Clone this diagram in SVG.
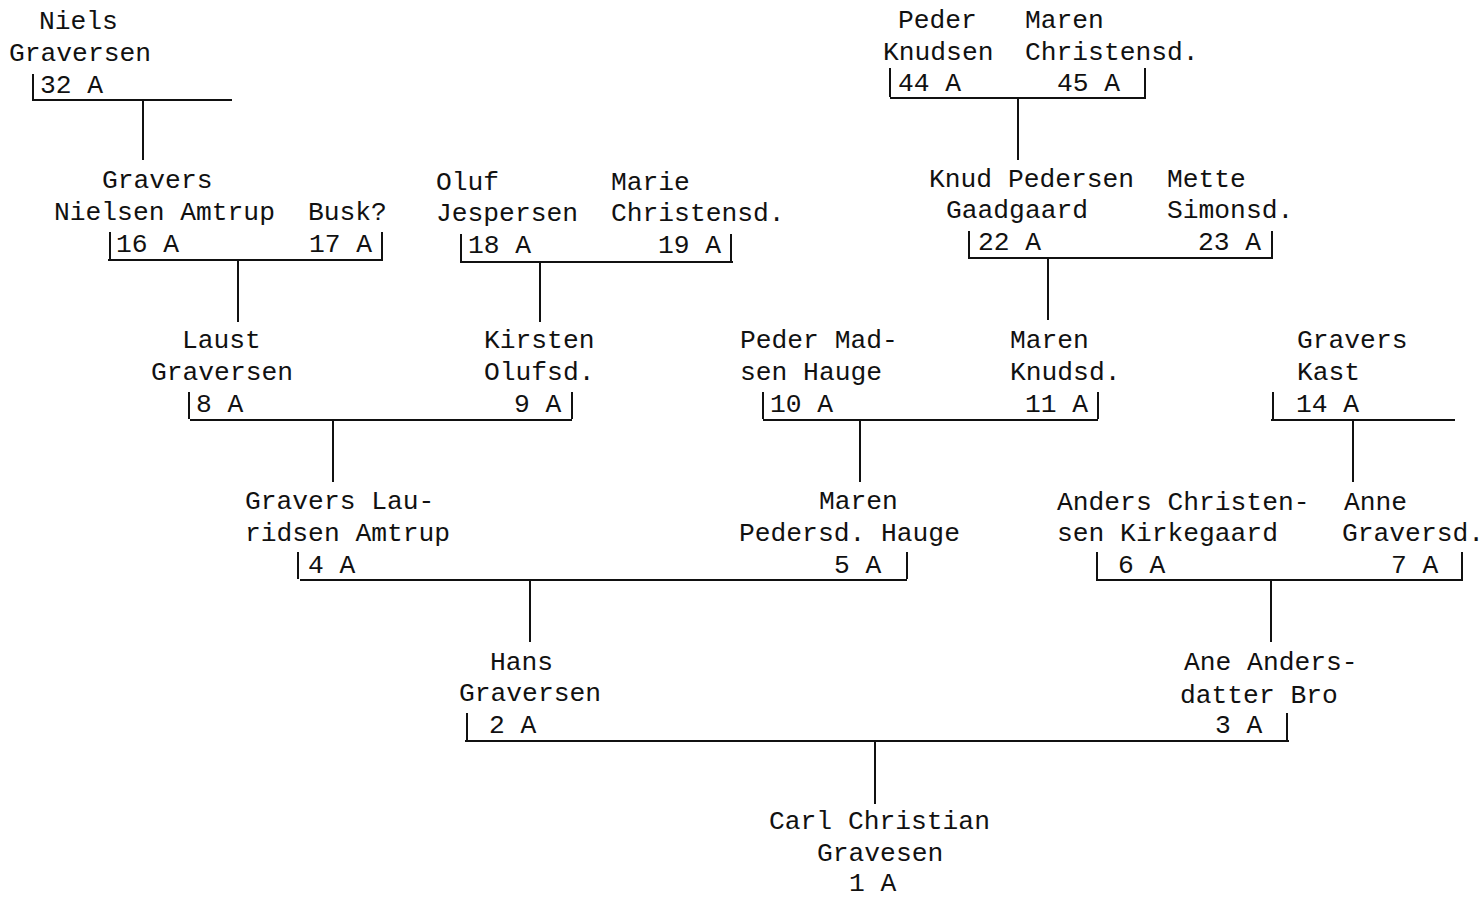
<svg xmlns="http://www.w3.org/2000/svg" width="1484" height="897" viewBox="0 0 1484 897">
<style>
text{font-family:"Liberation Mono","Courier New",monospace;font-size:26.3px;fill:#111}
.c line{stroke:#111;stroke-width:2}
</style>
<rect width="1484" height="897" fill="#fff"/>
<g class="c" id="connectors">
<line x1="32" y1="100" x2="232" y2="100"/><line x1="33" y1="74" x2="33" y2="99"/><line x1="143" y1="100" x2="143" y2="160"/>
<line x1="108" y1="260" x2="383" y2="260"/><line x1="110" y1="232" x2="110" y2="259"/><line x1="382" y1="232" x2="382" y2="259"/><line x1="238" y1="260" x2="238" y2="322"/>
<line x1="460" y1="262" x2="733" y2="262"/><line x1="461" y1="234" x2="461" y2="261"/><line x1="731" y1="234" x2="731" y2="261"/><line x1="540" y1="262" x2="540" y2="322"/>
<line x1="890" y1="98" x2="1146" y2="98"/><line x1="890" y1="68" x2="890" y2="97"/><line x1="1145" y1="68" x2="1145" y2="97"/><line x1="1018" y1="98" x2="1018" y2="160"/>
<line x1="968" y1="258" x2="1273" y2="258"/><line x1="969" y1="231" x2="969" y2="257"/><line x1="1272" y1="231" x2="1272" y2="257"/><line x1="1048" y1="258" x2="1048" y2="320"/>
<line x1="190" y1="420" x2="572" y2="420"/><line x1="189" y1="392" x2="189" y2="419"/><line x1="572" y1="392" x2="572" y2="419"/><line x1="333" y1="420" x2="333" y2="482"/>
<line x1="763" y1="420" x2="1098" y2="420"/><line x1="763" y1="392" x2="763" y2="419"/><line x1="1098" y1="392" x2="1098" y2="419"/><line x1="860" y1="420" x2="860" y2="482"/>
<line x1="1271" y1="420" x2="1455" y2="420"/><line x1="1273" y1="392" x2="1273" y2="419"/><line x1="1353" y1="420" x2="1353" y2="482"/>
<line x1="300" y1="580" x2="907" y2="580"/><line x1="298" y1="552" x2="298" y2="579"/><line x1="907" y1="552" x2="907" y2="579"/><line x1="530" y1="580" x2="530" y2="642"/>
<line x1="1096" y1="580" x2="1463" y2="580"/><line x1="1097" y1="552" x2="1097" y2="579"/><line x1="1462" y1="552" x2="1462" y2="579"/><line x1="1271" y1="580" x2="1271" y2="642"/>
<line x1="465" y1="741" x2="1289" y2="741"/><line x1="467" y1="713" x2="467" y2="740"/><line x1="1287" y1="713" x2="1287" y2="740"/><line x1="875" y1="741" x2="875" y2="804"/>
</g>
<g id="n32"><text x="39" y="29">Niels</text><text x="9" y="61">Graversen</text><text x="40" y="93">32 A</text></g>
<g id="n44"><text x="898" y="28">Peder</text><text x="883" y="60">Knudsen</text><text x="898" y="91">44 A</text></g>
<g id="n45"><text x="1025" y="28">Maren</text><text x="1025" y="60">Christensd.</text><text x="1057" y="91">45 A</text></g>
<g id="n16"><text x="102" y="188">Gravers</text><text x="54" y="220">Nielsen Amtrup</text><text x="116" y="252">16 A</text></g>
<g id="n17"><text x="308" y="220">Busk?</text><text x="309" y="252">17 A</text></g>
<g id="n18"><text x="436" y="190">Oluf</text><text x="436" y="221">Jespersen</text><text x="468" y="253">18 A</text></g>
<g id="n19"><text x="611" y="190">Marie</text><text x="611" y="221">Christensd.</text><text x="658" y="253">19 A</text></g>
<g id="n22"><text x="929" y="187">Knud Pedersen</text><text x="946" y="218">Gaadgaard</text><text x="978" y="250">22 A</text></g>
<g id="n23"><text x="1167" y="187">Mette</text><text x="1167" y="218">Simonsd.</text><text x="1198" y="250">23 A</text></g>
<g id="n8"><text x="182" y="348">Laust</text><text x="151" y="380">Graversen</text><text x="196" y="412">8 A</text></g>
<g id="n9"><text x="484" y="348">Kirsten</text><text x="484" y="380">Olufsd.</text><text x="514" y="412">9 A</text></g>
<g id="n10"><text x="740" y="348">Peder Mad-</text><text x="740" y="380">sen Hauge</text><text x="770" y="412">10 A</text></g>
<g id="n11"><text x="1010" y="348">Maren</text><text x="1010" y="380">Knudsd.</text><text x="1025" y="412">11 A</text></g>
<g id="n14"><text x="1297" y="348">Gravers</text><text x="1297" y="380">Kast</text><text x="1296" y="412">14 A</text></g>
<g id="n4"><text x="245" y="509">Gravers Lau-</text><text x="245" y="541">ridsen Amtrup</text><text x="308" y="573">4 A</text></g>
<g id="n5"><text x="819" y="509">Maren</text><text x="739" y="541">Pedersd. Hauge</text><text x="834" y="573">5 A</text></g>
<g id="n6"><text x="1057" y="510">Anders Christen-</text><text x="1057" y="541">sen Kirkegaard</text><text x="1118" y="573">6 A</text></g>
<g id="n7"><text x="1344" y="510">Anne</text><text x="1342" y="541">Graversd.</text><text x="1391" y="573">7 A</text></g>
<g id="n2"><text x="490" y="670">Hans</text><text x="459" y="701">Graversen</text><text x="489" y="733">2 A</text></g>
<g id="n3"><text x="1184" y="670">Ane Anders-</text><text x="1180" y="703">datter Bro</text><text x="1215" y="733">3 A</text></g>
<g id="n1"><text x="769" y="829">Carl Christian</text><text x="817" y="861">Gravesen</text><text x="849" y="891">1 A</text></g>
</svg>
